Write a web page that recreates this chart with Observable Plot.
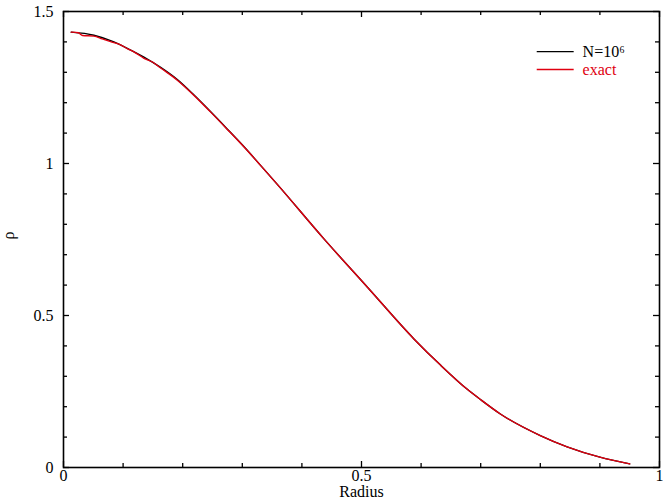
<!DOCTYPE html>
<html>
<head>
<meta charset="utf-8">
<script src="https://cdn.jsdelivr.net/npm/d3@7"></script>
<script src="https://cdn.jsdelivr.net/npm/@observablehq/plot@0.6"></script>
<style>
  html, body { margin: 0; padding: 0; background: #fff; }
  #chart svg { display: block; font-family: "Liberation Serif", serif; }
  #chart svg text { font-family: "Liberation Serif", serif; }
</style>
</head>
<body>
<div id="chart"></div>
<script>
// Radius values
const radiusSim = [0.013, 0.051, 0.079, 0.107, 0.135, 0.163, 0.191, 0.219, 0.247, 0.275, 0.303, 0.331, 0.358, 0.437, 0.510, 0.588, 0.633, 0.677, 0.700, 0.733, 0.800, 0.845, 0.900, 0.950];
// N=10^6 density
const rhoSim    = [1.432, 1.422, 1.404, 1.379, 1.350, 1.316, 1.276, 1.225, 1.170, 1.113, 1.055, 0.993, 0.933, 0.752, 0.593, 0.423, 0.336, 0.258, 0.223, 0.176, 0.105, 0.068, 0.034, 0.012];

const radiusExact = [0.013, 0.025, 0.032, 0.051, 0.065, 0.079, 0.095, 0.107, 0.120, 0.135, 0.150, 0.163, 0.191, 0.219, 0.247, 0.275, 0.303, 0.331, 0.358, 0.437, 0.510, 0.588, 0.633, 0.677, 0.700, 0.733, 0.800, 0.845, 0.900, 0.950];
// exact density
const rhoExact    = [1.432, 1.430, 1.421, 1.419, 1.410, 1.401, 1.391, 1.378, 1.365, 1.346, 1.333, 1.314, 1.274, 1.224, 1.169, 1.112, 1.054, 0.993, 0.933, 0.752, 0.593, 0.423, 0.336, 0.258, 0.223, 0.176, 0.105, 0.068, 0.034, 0.012];

const xMajorTicks = [0, 0.5, 1];
const xMinorTicks = [0.1, 0.2, 0.3, 0.4, 0.6, 0.7, 0.8, 0.9];
const yMajorTicks = [0, 0.5, 1, 1.5];
const yMinorTicks = [0.1, 0.2, 0.3, 0.4, 0.6, 0.7, 0.8, 0.9, 1.1, 1.2, 1.3, 1.4];

const seriesNames = ["N=10\u2076", "exact"];
const seriesColors = ["#000000", "#e00010"];
const yTitle = ["ρ"];

const W = 663, H = 499;
const mL = 63, mR = 4, mT = 11, mB = 32;
const fw = W - mL - mR, fh = H - mT - mB;
const major = 6, minor = 4;

const sim = radiusSim.map((r, i) => ({r, rho: rhoSim[i]}));
const exact = radiusExact.map((r, i) => ({r, rho: rhoExact[i]}));

// legend rows (swatch + label), placed in data space
const legend = seriesNames.map((name, i) => ({
  name, color: seriesColors[i],
  x1: 0.794, x2: 0.856, xt: 0.871, y: 1.368 - i * 0.059
}));

const chart = Plot.plot({
  width: W, height: H,
  marginLeft: mL, marginRight: mR, marginTop: mT, marginBottom: mB,
  style: {fontFamily: "Liberation Serif", fontSize: "16px", color: "#000", background: "#fff"},
  x: {domain: [0, 1]},
  y: {domain: [0, 1.5]},
  marks: [
    // inward ticks: bottom & top
    Plot.tickX(xMajorTicks, {x: d => d, insetTop: fh - major, stroke: "#000", strokeWidth: 1.3}),
    Plot.tickX(xMinorTicks, {x: d => d, insetTop: fh - minor, stroke: "#000", strokeWidth: 1.3}),
    Plot.tickX(xMajorTicks, {x: d => d, insetBottom: fh - major, stroke: "#000", strokeWidth: 1.3}),
    Plot.tickX(xMinorTicks, {x: d => d, insetBottom: fh - minor, stroke: "#000", strokeWidth: 1.3}),
    // inward ticks: left & right
    Plot.tickY(yMajorTicks, {y: d => d, insetRight: fw - major, stroke: "#000", strokeWidth: 1.3}),
    Plot.tickY(yMinorTicks, {y: d => d, insetRight: fw - minor, stroke: "#000", strokeWidth: 1.3}),
    Plot.tickY(yMajorTicks, {y: d => d, insetLeft: fw - major, stroke: "#000", strokeWidth: 1.3}),
    Plot.tickY(yMinorTicks, {y: d => d, insetLeft: fw - minor, stroke: "#000", strokeWidth: 1.3}),
    Plot.axisX({ticks: xMajorTicks, tickSize: 0, tickPadding: 2, tickFormat: d => String(d),
      label: "Radius", labelAnchor: "center", labelArrow: "none", labelOffset: 29, fontSize: 16}),
    Plot.axisY({ticks: yMajorTicks, tickSize: 0, tickPadding: 10, tickFormat: d => String(d),
      label: null, fontSize: 16}),
    Plot.text(yTitle, {text: d => d, frameAnchor: "left", dx: -55, rotate: -90, fontSize: 16}),
    Plot.frame({stroke: "#000", strokeWidth: 1.6}),
    Plot.line(sim, {x: "r", y: "rho", stroke: seriesColors[0], strokeWidth: 1.4, curve: "monotone-x"}),
    Plot.line(exact, {x: "r", y: "rho", stroke: seriesColors[1], strokeWidth: 1.4, curve: "monotone-x"}),
    Plot.link(legend, {x1: "x1", x2: "x2", y1: "y", y2: "y", stroke: "color", strokeWidth: 1.4}),
    Plot.text(legend, {x: "xt", y: "y", text: "name", fill: "color", textAnchor: "start", fontSize: 16})
  ]
});
document.getElementById("chart").appendChild(chart);
</script>
</body>
</html>
